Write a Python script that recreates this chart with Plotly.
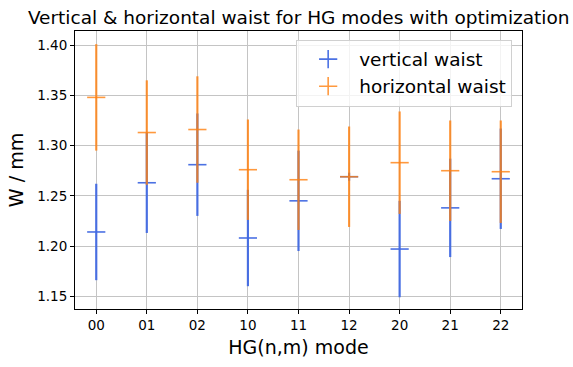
import plotly.graph_objects as go

# HG(n,m) mode labels
modes = ["00", "01", "02", "10", "11", "12", "20", "21", "22"]

# Fitted waists (mm) and their uncertainties
vertical_waist = [1.214, 1.263, 1.281, 1.208, 1.245, 1.269, 1.197, 1.238, 1.267]
vertical_err = [0.048, 0.050, 0.051, 0.048, 0.050, 0.004, 0.048, 0.049, 0.050]
horizontal_waist = [1.348, 1.313, 1.316, 1.276, 1.266, 1.269, 1.283, 1.275, 1.274]
horizontal_err = [0.053, 0.052, 0.053, 0.050, 0.050, 0.050, 0.051, 0.050, 0.051]

y_ticks = [1.15, 1.20, 1.25, 1.30, 1.35, 1.40]

BLUE = "rgba(65,105,225,0.95)"
ORANGE = "rgba(255,127,14,0.8)"
FONT = "DejaVu Sans"

fig = go.Figure()


def add_series(name, y, err, color):
    fig.add_trace(go.Scatter(
        x=modes, y=y, mode="markers", name=name, showlegend=False,
        marker=dict(symbol="line-ew", size=13, color=color,
                    line=dict(color=color, width=1.6)),
        error_y=dict(type="data", array=err, visible=True,
                     color=color, thickness=2.2, width=0),
    ))
    # legend entry with a '+' glyph
    fig.add_trace(go.Scatter(
        x=[None], y=[None], mode="markers", name=name,
        marker=dict(symbol="cross-thin", size=13, color=color,
                    line=dict(color=color, width=1.6)),
    ))


add_series("vertical waist", vertical_waist, vertical_err, BLUE)
add_series("horizontal waist", horizontal_waist, horizontal_err, ORANGE)

axis_common = dict(
    showline=True, linecolor="black", linewidth=1, mirror=True,
    ticks="outside", ticklen=4, tickcolor="black", tickwidth=1,
    showgrid=True, gridcolor="#c4c4c4", gridwidth=1,
    zeroline=False,
    tickfont=dict(family=FONT, size=13.5, color="black"),
)

fig.update_xaxes(
    type="category", range=[-0.42, 8.42],
    title=dict(text="HG(n,m) mode", font=dict(family=FONT, size=19, color="black"),
               standoff=8),
    **axis_common,
)
fig.update_yaxes(
    range=[1.1373, 1.4141], tickvals=y_ticks, tickformat=".2f",
    title=dict(text="W / mm", font=dict(family=FONT, size=19, color="black"),
               standoff=8),
    **axis_common,
)

fig.update_layout(
    width=573, height=367,
    margin=dict(l=75, r=51, t=31, b=47),
    paper_bgcolor="white", plot_bgcolor="white",
    font=dict(family=FONT, color="black"),
    title=dict(text="Vertical & horizontal waist for HG modes with optimization",
               x=0.5213, xanchor="center", y=0.952, yanchor="middle",
               font=dict(family=FONT, size=18.5, color="black")),
    legend=dict(x=0.978, xanchor="right", y=0.969, yanchor="top",
                bgcolor="rgba(255,255,255,0.8)", bordercolor="#d0d0d0",
                borderwidth=1, font=dict(family=FONT, size=18.5, color="black"),
                itemwidth=52, tracegroupgap=0),
)

fig.write_html("out.html")
